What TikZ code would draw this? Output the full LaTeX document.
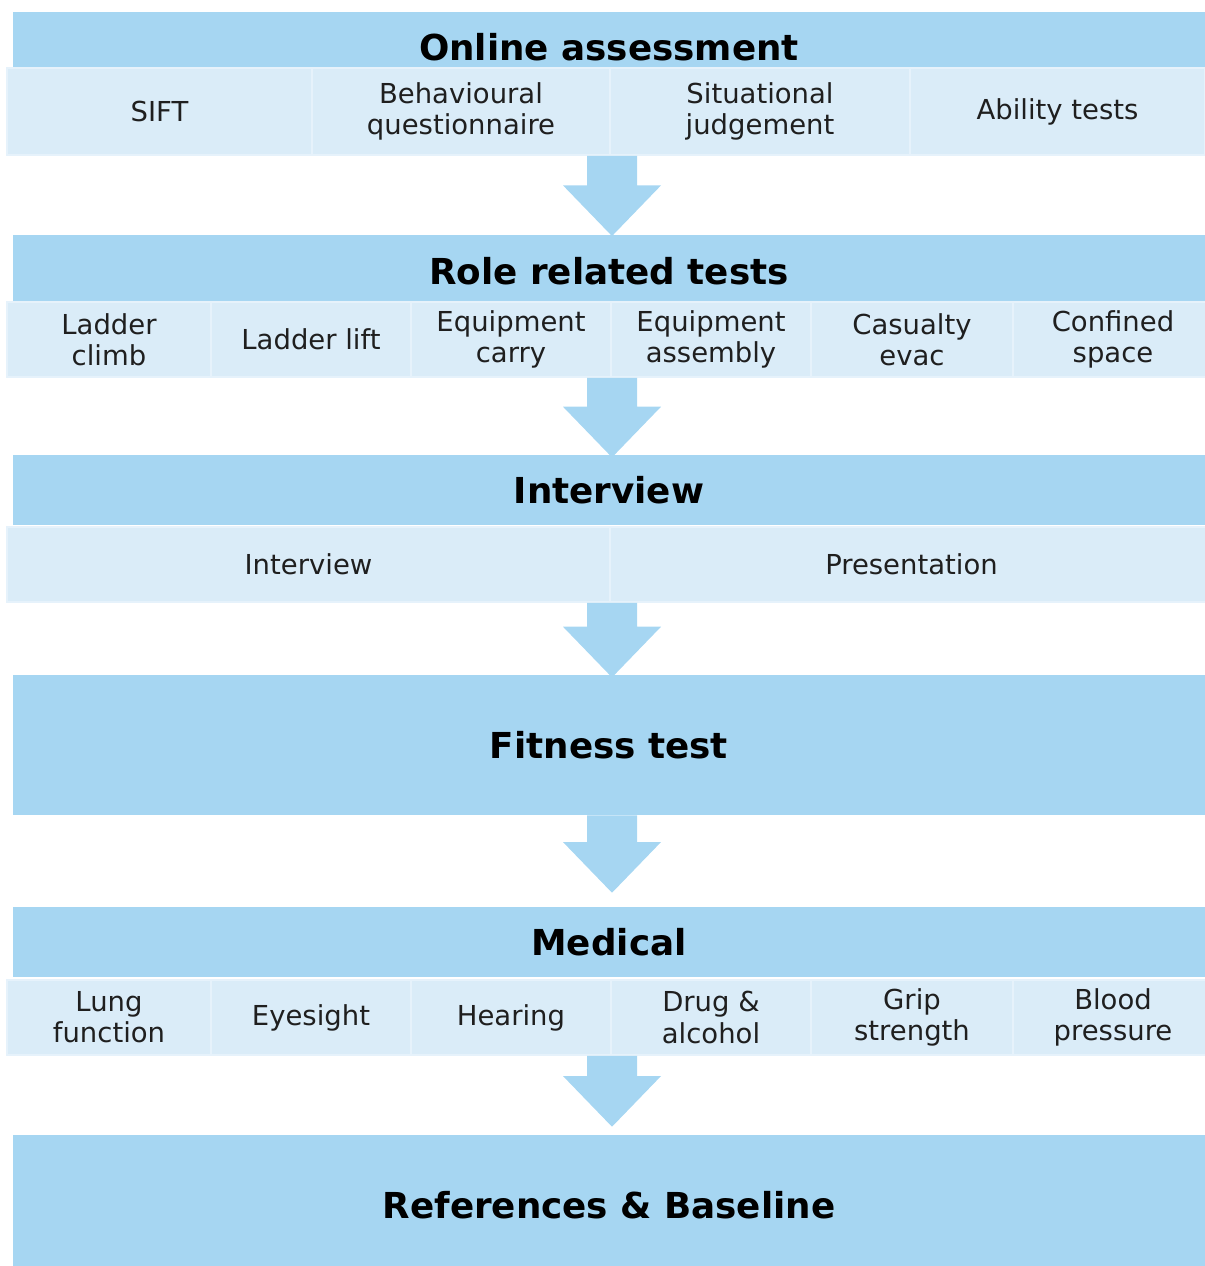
\documentclass[tikz,border=0pt]{standalone}
\usepackage{fontspec}
\setmainfont{DejaVu Sans}
\usetikzlibrary{positioning,calc}
\definecolor{bandblue}{HTML}{A6D6F2}
\definecolor{cellblue}{HTML}{DAECF8}
\definecolor{celledge}{HTML}{E6F2FB}
\def\pxu{0.75pt}

\begin{document}
\begin{tikzpicture}[x=0.75pt,y=-0.75pt]
	\tikzset{band/.style={fill=bandblue,draw=none,inner sep=0pt,minimum width={1192*\pxu},
			font=\bfseries\fontsize{26.8}{32}\selectfont},
		cell/.style={fill=cellblue,draw=celledge,line width=1.2pt,inner sep=0pt,align=center,
			text=black!88,font=\fontsize{20.6}{23.3}\selectfont},
		flow/.style={fill=bandblue,draw=none}}
	\useasboundingbox (0,0) rectangle (1205,1266);
	% stage bands
	\node[band,minimum height={70*\pxu}] (online) at (609,47) {Online assessment};
	\node[band,minimum height={72*\pxu}] (role) at (609,271) {Role related tests};
	\node[band,minimum height={70*\pxu}] (interview) at (609,490) {Interview};
	\node[band,minimum height={140*\pxu}] (fitness) at (609,745) {Fitness test};
	\node[band,minimum height={70*\pxu}] (medical) at (609,942) {Medical};
	\node[band,minimum height={140*\pxu}] (refs) at (609,1205) {References \& Baseline};
	% sub steps
	\foreach \l/\r/\txt [count=\i] in {7/312/SIFT, 312/610/{Behavioural\\questionnaire},
			610/910/{Situational\\judgement}, 910/1205/Ability tests}
		\node[cell,minimum width={(\r-\l)*\pxu},minimum height={87*\pxu}] (on\i)
			at ({(\l+\r)/2},111.5) {\txt};
	\foreach \l/\r/\txt [count=\i] in {7/211/{Ladder\\climb}, 211/411/Ladder lift,
			411/611/{Equipment\\carry}, 611/811/{Equipment\\assembly},
			811/1013/{Casualty\\evac}, 1013/1213/{Confined\\space}}
		\node[cell,minimum width={(\r-\l)*\pxu},minimum height={75*\pxu}] (rr\i)
			at ({(\l+\r)/2},339.5) {\txt};
	\foreach \l/\r/\txt [count=\i] in {7/610/Interview, 610/1213/Presentation}
		\node[cell,minimum width={(\r-\l)*\pxu},minimum height={75*\pxu}] (iv\i)
			at ({(\l+\r)/2},564.5) {\txt};
	\foreach \l/\r/\txt [count=\i] in {7/211/{Lung\\function}, 211/411/Eyesight,
			411/611/Hearing, 611/811/{Drug \&\\alcohol},
			811/1013/{Grip\\strength}, 1013/1213/{Blood\\pressure}}
		\node[cell,minimum width={(\r-\l)*\pxu},minimum height={75*\pxu}] (md\i)
			at ({(\l+\r)/2},1017.5) {\txt};
	% block arrows between stages
	\foreach \a/\b/\g in {on2/role/-1pt, rr3/interview/-2pt, iv1/fitness/-2pt,
			fitness/medical/10.5pt, md3/refs/6pt}
		\fill[flow] let \p1=(\a.south), \p2=(\b.north) in
			(\x2-16.5pt,\y1) -- (\x2+21pt,\y1) -- (\x2+21pt,\y2+\g+38pt)
			-- (\x2+39pt,\y2+\g+38pt) -- (\x2+2.25pt,\y2+\g) -- (\x2-34.5pt,\y2+\g+38pt)
			-- (\x2-16.5pt,\y2+\g+38pt) -- cycle;
\end{tikzpicture}
\end{document}
